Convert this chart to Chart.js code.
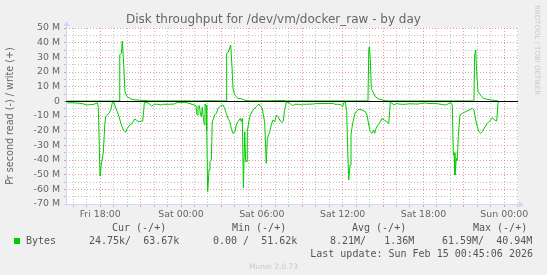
<!DOCTYPE html>
<html lang="en">
<head>
  <meta charset="UTF-8" />
  <title>Disk throughput for /dev/vm/docker_raw - by day</title>
  <script src="https://cdn.jsdelivr.net/npm/chart.js"></script>
  <style>
    * { margin: 0; padding: 0; }
    body { background: #f0f0f0; width: 547px; height: 275px; overflow: hidden; }
    #wrap { position: relative; width: 547px; height: 275px; }
    #chart { position: absolute; left: 0; top: 0; }
    .txt { position: absolute; white-space: pre; font-family: "DejaVu Sans", sans-serif; color: #666; }
    .mono { position: absolute; white-space: pre; font-family: "DejaVu Sans Mono", monospace; font-size: 10px; line-height: 12px; color: #555; }
    #title { left: 0; width: 547px; top: 12px; text-align: center; font-size: 12px; line-height: 14px; color: #666; }
    #ytitle { left: -90px; top: 110px; width: 200px; text-align: center; font-size: 9.6px; line-height: 12px; transform: rotate(-90deg); }
    #rrd { left: 533px; top: 5px; font-size: 7px; color: #c8c8c8; writing-mode: vertical-rl; }
    #munin { left: 0; width: 547px; top: 262px; text-align: center; font-size: 7.5px; color: #c8c8c8; }
    #swatch { position: absolute; left: 14px; top: 238px; width: 6px; height: 6px; background: #00cc00; }
  </style>
</head>
<body>
<div id="wrap">
  <canvas id="chart" width="547" height="275"></canvas>
  <div class="txt" id="title">Disk throughput for /dev/vm/docker_raw - by day</div>
  <div class="txt" id="ytitle">Pr second read (-) / write (+)</div>
  <div class="txt" id="rrd">RRDTOOL / TOBI OETIKER</div>
  <div class="mono" style="left:112px;top:222px">Cur (-/+)</div>
  <div class="mono" style="left:232px;top:222px">Min (-/+)</div>
  <div class="mono" style="left:352px;top:222px">Avg (-/+)</div>
  <div class="mono" style="left:473px;top:222px">Max (-/+)</div>
  <div id="swatch"></div>
  <div class="mono" style="left:26px;top:235px">Bytes</div>
  <div class="mono" style="left:89px;top:235px">24.75k/  63.67k</div>
  <div class="mono" style="left:213px;top:235px">0.00 /  51.62k</div>
  <div class="mono" style="left:330px;top:235px">8.21M/   1.36M</div>
  <div class="mono" style="left:442px;top:235px">61.59M/  40.94M</div>
  <div class="mono" style="right:14px;top:248px">Last update: Sun Feb 15 00:45:06 2026</div>
  <div class="txt" id="munin">Munin 2.0.73</div>
</div>
<script>
  // time axis in hours, 0 = Fri 00:00
  const dayNames = ['Fri', 'Sat', 'Sun'];
  const xStart = 15.46;
  const xEnd = 49.02;

  // MB/s read (drawn below zero)
  const readTimes = [
    15.56, 16.06, 16.65, 17.02, 17.54, 17.79, 17.86, 17.99, 18.08, 18.23, 18.34, 18.41,
    18.65, 18.78, 18.90, 19.03, 19.15, 19.27, 19.40, 19.57, 19.72, 19.89, 20.01, 20.21,
    20.38, 20.56, 20.71, 20.88, 21.03, 21.16, 21.28, 21.53, 21.68, 21.82, 22.02, 22.27,
    22.52, 22.64, 23.13, 23.50, 23.76, 24.00, 24.24, 24.50, 24.74, 24.99, 25.11, 25.19,
    25.26, 25.36, 25.43, 25.51, 25.58, 25.69, 25.73, 25.78, 25.86, 25.91, 25.98, 26.08,
    26.15, 26.25, 26.32, 26.50, 26.62, 26.75, 26.95, 27.12, 27.24, 27.36, 27.49, 27.62,
    27.73, 27.86, 27.99, 28.11, 28.23, 28.40, 28.48, 28.55, 28.63, 28.73, 28.80, 28.90,
    28.92, 29.03, 29.14, 29.35, 29.59, 29.79, 29.92, 30.04, 30.11, 30.21, 30.33, 30.41,
    30.59, 30.70, 30.83, 30.96, 31.08, 31.20, 31.33, 31.48, 31.60, 31.67, 31.80, 31.89,
    32.04, 32.22, 32.34, 32.46, 32.83, 32.96, 33.08, 33.33, 33.82, 34.07, 34.32, 35.31,
    35.43, 35.68, 35.93, 36.00, 36.10, 36.20, 36.30, 36.38, 36.45, 36.55, 36.62, 36.72,
    36.84, 36.94, 37.19, 37.44, 37.68, 37.81, 37.94, 38.05, 38.18, 38.31, 38.38, 38.48,
    38.63, 38.80, 38.92, 39.12, 39.29, 39.42, 39.49, 39.54, 39.66, 39.79, 39.91, 40.04,
    40.16, 40.41, 40.65, 40.90, 41.15, 41.39, 41.65, 41.77, 41.89, 42.02, 42.29, 43.03,
    43.40, 43.65, 43.90, 44.02, 44.14, 44.22, 44.27, 44.34, 44.44, 44.51, 44.59, 44.71,
    44.88, 45.14, 45.38, 45.63, 45.75, 45.88, 46.00, 46.12, 46.25, 46.37, 46.50, 46.74,
    46.99, 47.11, 47.29, 47.44, 47.53, 47.61
  ];
  const readMB = [
    1.0, 1.0, 1.5, 2.5, 2.0, 1.0, 4.0, 51, 43, 35, 16, 10.5,
    8, 6, 0.7, 1.0, 4.6, 7, 10.5, 16, 19.6, 21, 18.4, 16,
    15, 12, 13, 14, 13.4, 13.4, 0.7, 1.0, 2, 3.2, 2, 2,
    2.5, 2, 2, 1.8, 0.7, 0.7, 0.7, 1.1, 1.8, 2.5, 3, 9.3,
    3.5, 3, 8, 10.5, 4, 13.9, 16, 1.8, 2.5, 20, 61.6, 46.6,
    41, 40, 14, 9.3, 8.2, 4.8, 3.2, 2.5, 4.8, 8.2, 11.6, 13.9,
    18.4, 21.8, 21, 16, 13.9, 11.6, 13.9, 11.6, 59, 20.7, 41, 41,
    20.7, 13.9, 9.3, 5.9, 3.6, 1.8, 3.6, 4.8, 9.3, 13.9, 42.3, 25.2,
    20.7, 16, 12.7, 13.9, 9.3, 10.5, 12.7, 14.4, 13.4, 7, 1.1, 0.7,
    1.1, 2.5, 2.8, 2, 2, 2.5, 2, 2, 1.8, 1.5, 1.5, 1.5,
    2, 2, 2.5, 3.6, 0.7, 0.7, 7, 34.4, 53.7, 43.4, 23, 16.2,
    11, 7.5, 5.5, 5.9, 7, 9.3, 16.2, 20.7, 21.8, 19.7, 21.8, 18.4,
    16, 13.9, 11.6, 13, 13.9, 15, 7, 0.7, 1.1, 2.5, 2, 1.5,
    1.8, 2, 2, 1.7, 1.7, 1.8, 1.8, 1.3, 1.6, 1.0, 1.4, 1.6,
    2.2, 2.5, 1.4, 0.7, 2.5, 36.6, 35, 50.2, 38.9, 40.5, 23, 9.3,
    8.2, 7, 5.9, 4.8, 5.9, 12.7, 17.3, 20.7, 21.8, 20.7, 18.4, 15,
    12.7, 11.2, 12.7, 13.4, 1.4, 0.3
  ];

  // MB/s written (drawn above zero)
  const writeTimes = [
    15.56, 19.40, 19.45, 19.57, 19.64, 19.72, 19.84, 20.01, 20.27, 20.51, 20.88, 21.25,
    21.70, 25.41, 25.78, 27.36, 27.39, 27.51, 27.69, 27.79, 27.86, 27.99, 28.23, 28.48,
    28.73, 29.12, 31.20, 31.57, 31.80, 37.88, 37.94, 37.98, 38.05, 38.13, 38.25, 38.42,
    38.68, 38.92, 39.17, 39.37, 45.75, 45.80, 45.88, 45.95, 46.05, 46.25, 46.44, 46.62,
    46.99, 47.36, 47.56
  ];
  const writeMB = [
    0.2, 0.2, 31.6, 32.7, 41, 29.3, 6.5, 3.1, 1.6, 1.0, 0.8, 0.6,
    0.3, 0.3, 0.5, 0.3, 32.7, 33.5, 38.4, 22.5, 8.9, 4.3, 2, 1.8,
    0.8, 0.3, 0.5, 0.6, 0.3, 0.3, 35, 37.2, 29.3, 8.9, 6.5, 3.1,
    1.6, 1, 0.5, 0.3, 0.3, 31.6, 35, 20.2, 6.5, 4.3, 2, 1.6,
    1, 0.5, 0.2
  ];

  const GREEN = '#00cc00';
  const AXIS = '#cfd6f8';
  const MAJOR = 'rgba(226,120,120,0.75)';
  const MINOR = 'rgba(170,170,170,0.7)';

  const muninPlugin = {
    id: 'munin',
    beforeDraw(chart) {
      const { ctx, chartArea: a } = chart;
      ctx.save();
      ctx.fillStyle = '#ffffff';
      ctx.fillRect(a.left, a.top, a.right - a.left, a.bottom - a.top);
      ctx.restore();
    },
    afterDatasetsDraw(chart) {
      const { ctx, chartArea: a } = chart;
      const y0 = Math.floor(chart.scales.y.getPixelForValue(0)) + 0.5;
      const xl = Math.floor(a.left) + 0.5, yb = Math.floor(a.bottom) + 0.5;
      ctx.save();
      ctx.lineWidth = 1;
      // solid axes with arrows
      ctx.strokeStyle = AXIS;
      ctx.fillStyle = AXIS;
      ctx.beginPath();
      ctx.moveTo(xl, a.bottom + 2); ctx.lineTo(xl, a.top - 3);
      ctx.moveTo(a.left - 2, yb); ctx.lineTo(a.right + 2, yb);
      ctx.stroke();
      ctx.beginPath();
      ctx.moveTo(xl - 3, a.top - 2); ctx.lineTo(xl + 3, a.top - 2); ctx.lineTo(xl, a.top - 7);
      ctx.closePath(); ctx.fill();
      ctx.beginPath();
      ctx.moveTo(a.right + 1, yb - 3); ctx.lineTo(a.right + 1, yb + 3); ctx.lineTo(a.right + 6, yb);
      ctx.closePath(); ctx.fill();
      // zero rule
      ctx.strokeStyle = '#000';
      ctx.beginPath();
      ctx.moveTo(a.left, y0);
      ctx.lineTo(a.right, y0);
      ctx.stroke();
      ctx.restore();
    }
  };

  const tickFont = { family: 'DejaVu Sans', size: 9.4 };

  new Chart(document.getElementById('chart'), {
    type: 'line',
    data: {
      datasets: [
        {
          label: 'read',
          data: readTimes.map((t, i) => ({ x: t, y: -readMB[i] })),
          borderColor: GREEN, borderWidth: 1, pointRadius: 0, tension: 0, fill: false
        },
        {
          label: 'write',
          data: writeTimes.map((t, i) => ({ x: t, y: writeMB[i] })),
          borderColor: GREEN, borderWidth: 1, pointRadius: 0, tension: 0, fill: false
        }
      ]
    },
    options: {
      responsive: false,
      devicePixelRatio: 1,
      animation: false,
      layout: { padding: { left: 0, top: 28, right: 29, bottom: 0 } },
      plugins: { legend: { display: false }, tooltip: { enabled: false }, title: { display: false } },
      scales: {
        x: {
          type: 'linear',
          min: xStart,
          max: xEnd,
          afterBuildTicks(scale) {
            const ticks = [];
            for (let h = Math.ceil(xStart); h <= xEnd; h++) ticks.push({ value: h });
            scale.ticks = ticks;
          },
          afterFit(scale) { scale.height = 71; },
          ticks: {
            autoSkip: false, maxRotation: 0, padding: 2, color: '#666', font: tickFont,
            callback(v) {
              if (v % 6 !== 0) return '';
              const hh = String(v % 24).padStart(2, '0');
              return dayNames[Math.floor(v / 24)] + ' ' + hh + ':00';
            }
          },
          grid: {
            tickLength: 3,
            color: ctx => (ctx.tick && ctx.tick.value % 3 === 0) ? MAJOR : MINOR
          },
          border: { display: false, dash: [1, 2] }
        },
        y: {
          min: -70,
          max: 50,
          afterFit(scale) { scale.width = 66; },
          ticks: {
            stepSize: 5, autoSkip: false, padding: 4, color: '#666', font: tickFont,
            callback(v) {
              if (v % 10 !== 0) return '';
              return v === 0 ? '0' : v + ' M';
            }
          },
          grid: {
            tickLength: 2,
            color: ctx => (ctx.tick && ctx.tick.value % 10 === 0) ? MAJOR : MINOR
          },
          border: { display: false, dash: [1, 2] }
        }
      }
    },
    plugins: [muninPlugin]
  });
</script>
</body>
</html>
